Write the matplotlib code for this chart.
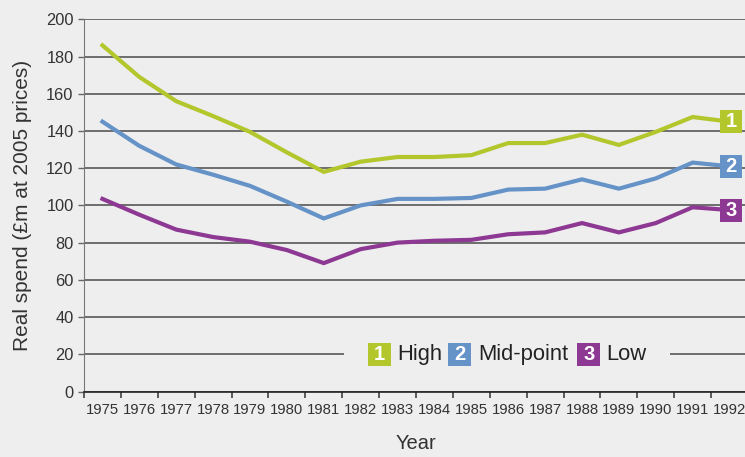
import matplotlib.pyplot as plt
from matplotlib.patches import Rectangle

years = [str(y) for y in range(1975, 1993)]
high = [186, 169, 156, 148, 139.5, 128.5, 118, 123.5, 126, 126, 127, 133.5, 133.5, 138, 132.5, 139.5, 147.5, 145]
mid = [145, 132, 122, 116.5, 110.5, 102, 93, 100, 103.5, 103.5, 104, 108.5, 109, 114, 109, 114.5, 123, 121]
low = [103.5, 95, 87, 83, 80.5, 76, 69, 76.5, 80, 81, 81.5, 84.5, 85.5, 90.5, 85.5, 90.5, 99, 97.5]

series = [("1", "High", high, "#b3c72d"),
          ("2", "Mid-point", mid, "#6593c7"),
          ("3", "Low", low, "#8d3892")]

bg = "#eeeeee"
plt.rcParams["font.family"] = ["Liberation Sans", "DejaVu Sans"]

fig = plt.figure(figsize=(7.45, 4.57), dpi=100, facecolor=bg)
ax = fig.add_axes([84 / 745, 1 - 391.5 / 457, 664 / 745, 372.2 / 457])
ax.set_facecolor(bg)

x = list(range(len(years)))
for num, name, vals, col in series:
    ax.plot(x, vals, color=col, lw=3, solid_joinstyle="miter", zorder=3)

ax.set_xlim(-0.5, len(years) - 0.5)
ax.set_ylim(0, 200)
ax.set_yticks(range(0, 201, 20))
ax.yaxis.grid(True, color="#4a4a4a", lw=1.1, zorder=1)
ax.set_axisbelow(True)

ax.set_xticks(x)
ax.set_xticklabels(years, fontsize=10.7, color="#333333")
ax.set_xticks([i - 0.5 for i in range(len(years) + 1)], minor=True)
ax.tick_params(axis="x", which="major", length=0, pad=8.5)
ax.tick_params(axis="x", which="minor", length=4.5, width=1.1, color="#333333")
ax.tick_params(axis="y", length=4.5, width=1, color="#666666", pad=3,
               labelsize=11.8, labelcolor="#333333")

for s in ["top", "right"]:
    ax.spines[s].set_visible(False)
ax.spines["left"].set_color("#777777")
ax.spines["bottom"].set_color("#222222")
ax.spines["bottom"].set_linewidth(1.2)

ax.set_ylabel("Real spend (£m at 2005 prices)", fontsize=15, color="#333333", labelpad=10)
ax.set_xlabel("Year", fontsize=14.5, color="#333333", labelpad=12)

# end labels on the right
bw, bh = 0.62, 23 / 1.861
for num, name, vals, col in series:
    ax.add_patch(Rectangle((17.04 - bw / 2, vals[-1] - bh / 2), bw, bh,
                           facecolor=col, edgecolor="none", zorder=5))
    ax.text(17.04, vals[-1], num, color="white", fontsize=14.5, fontweight="bold",
            ha="center", va="center", zorder=6)

# legend in the lower part, covering the gridline
ax.add_patch(Rectangle((0.392, 0.07), 0.49, 0.06, transform=ax.transAxes,
                       facecolor=bg, edgecolor="none", zorder=2))
lx = [(0.445, 0.472), (0.5655, 0.593), (0.760, 0.787)]
sw, sh = 23 / 664, 23 / 372.2
for (bx, tx), (num, name, vals, col) in zip(lx, series):
    ax.add_patch(Rectangle((bx - sw / 2, 0.1 - sh / 2), sw, sh, transform=ax.transAxes,
                           facecolor=col, edgecolor="none", zorder=5))
    ax.text(bx, 0.1, num, transform=ax.transAxes, color="white", fontsize=14.5,
            fontweight="bold", ha="center", va="center", zorder=6)
    ax.text(tx, 0.1, name, transform=ax.transAxes, color="#222222", fontsize=15.8,
            ha="left", va="center", zorder=6)

fig.savefig("out.png", dpi=100, facecolor=bg)
